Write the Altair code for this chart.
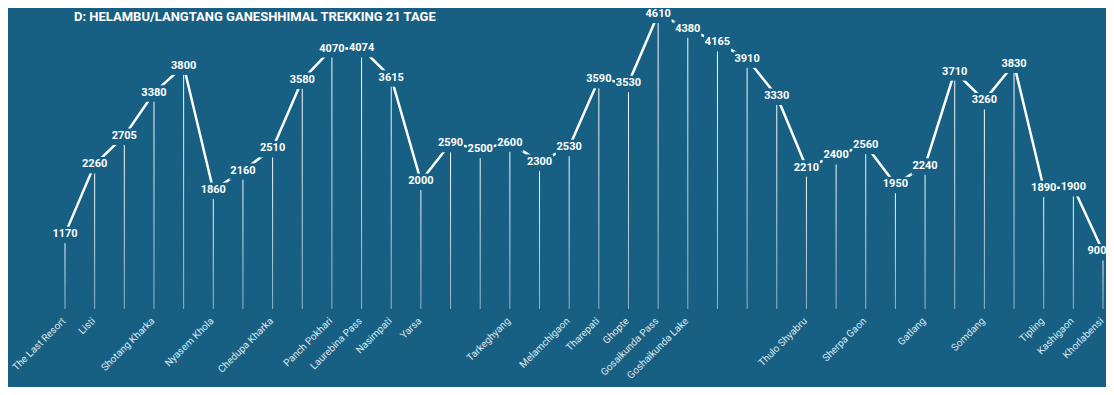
import json
import altair as alt
import pandas as pd

names = ["The Last Resort", "Listi", "", "Shotang Kharka", "", "Nyasem Khola", "",
         "Chedupa Kharka", "", "Panch Pokhari", "Laurebina Pass", "Nasimpati", "Yarsa",
         "", "", "Tarkeghyang", "", "Melamchigaon", "Tharepati", "Ghopte",
         "Gosaikunda Pass", "Goshaikunda Lake", "", "", "", "Thulo Shyabru", "",
         "Sherpa Gaon", "", "Gatlang", "", "Somdang", "", "Tipling", "Kashigaon",
         "Khorlabensi"]
elev = [1170, 2260, 2705, 3380, 3800, 1860, 2160, 2510, 3580, 4070, 4074, 3615, 2000,
        2590, 2500, 2600, 2300, 2530, 3590, 3530, 4610, 4380, 4165, 3910, 3330, 2210,
        2400, 2560, 1950, 2240, 3710, 3260, 3830, 1890, 1900, 900]
title_text = ["D: HELAMBU/LANGTANG GANESHHIMAL  TREKKING 21 TAGE"]

BG = "#175f83"
df = pd.DataFrame({"i": list(range(len(elev))), "name": names, "elev": elev})
last = len(elev) - 1

label_expr = "[" + ",".join(json.dumps(n) for n in names) + "][datum.value]"

x = alt.X("i:Q",
          scale=alt.Scale(domain=[-1.922, 35.101], nice=False, zero=False, padding=0),
          axis=alt.Axis(values=[i for i, n in enumerate(names) if n],
                        labelExpr=label_expr, labelAngle=-45, labelAlign="right",
                        labelBaseline="middle", labelPadding=10, labelOffset=-1.5,
                        labelColor="#dce8ef", labelFont="Roboto", labelFontSize=10,
                        domain=False, ticks=False, grid=False, labelOverlap=False,
                        title=None))
y = alt.Y("elev:Q", scale=alt.Scale(domain=[0, 4610], nice=False, padding=0), axis=None)

base = alt.Chart(df).encode(x=x, y=y)

line = base.mark_line(color="white", strokeWidth=2.5)
grad = alt.Gradient(gradient="linear",
                    stops=[alt.GradientStop(color="#ffffff", offset=0),
                           alt.GradientStop(color="#8fb3c7", offset=1)],
                    x1=0, x2=0, y1=0, y2=1)
bars = base.mark_bar(size=1, color=grad).encode(y2=alt.value(288))
mask = base.mark_point(shape="M-1,-0.55H1V0.67H-1Z", size=27 * 27, filled=True,
                       color=BG, opacity=1, strokeWidth=0)
text_style = dict(font="Roboto", fontWeight="bold", fontSize=11, color="white")
text = base.transform_filter(f"datum.i < {last}").mark_text(**text_style).encode(
    text="elev:Q")
text_last = base.transform_filter(f"datum.i == {last}").mark_text(
    dx=-6, **text_style).encode(text="elev:Q")

title = alt.Chart(pd.DataFrame({"t": title_text})).mark_text(
    font="Roboto", fontWeight="bold", fontSize=13, color="white",
    align="left", baseline="middle").encode(
    text="t:N", x=alt.value(66), y=alt.value(3))

chart = alt.layer(line, bars, mask, text, text_last, title).properties(
    width=1098, height=295, autosize="none",
    padding={"left": 0, "top": 6, "right": 0, "bottom": 78},
    background=BG,
).configure_view(stroke=None)

chart.save("out.html", embed_options={"renderer": "svg", "actions": False})
